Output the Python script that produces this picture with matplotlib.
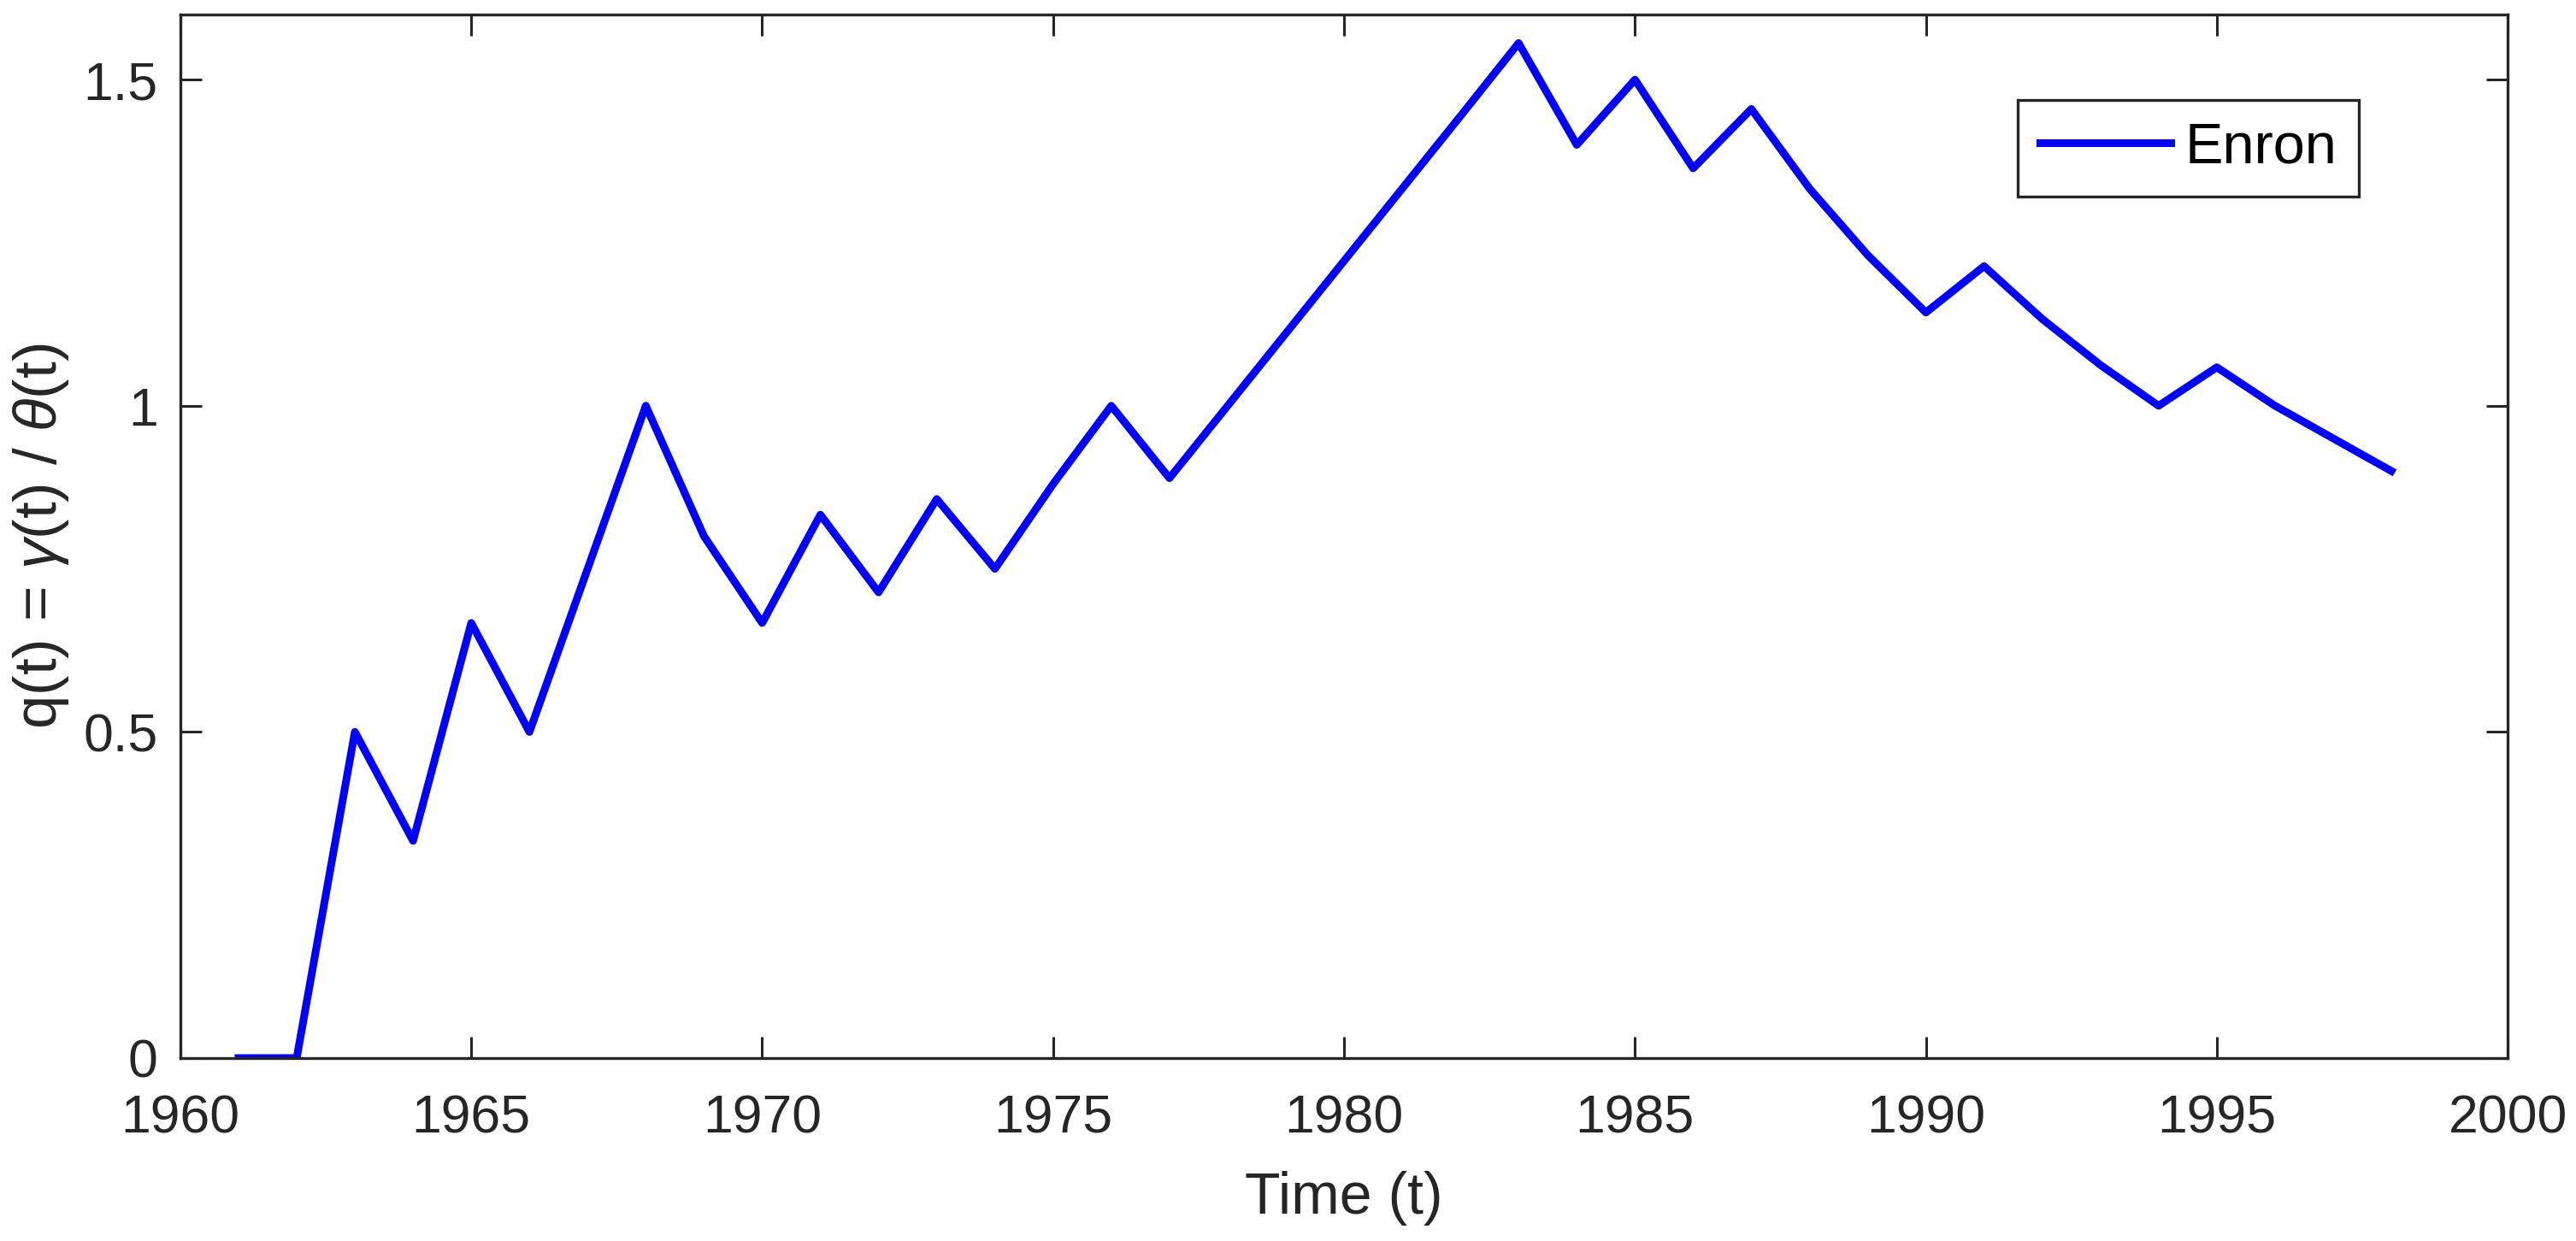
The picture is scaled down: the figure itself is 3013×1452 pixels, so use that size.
import numpy as np
import matplotlib
matplotlib.use("Agg")
import matplotlib.pyplot as plt

# -----------------------------------------------------------------
# data (yearly values)
# -----------------------------------------------------------------
years = list(range(1961, 1999))
q_enron = [0.0, 0.0, 0.5, 0.333, 0.667, 0.5, 0.75, 1.0, 0.8, 0.667,
           0.833, 0.714, 0.857, 0.75, 0.88, 1.0, 0.889, 1.0, 1.111, 1.222,
           1.333, 1.444, 1.556, 1.4, 1.5, 1.364, 1.455, 1.333, 1.231, 1.143,
           1.214, 1.133, 1.0625, 1.0, 1.059, 1.0, 0.95, 0.9]
series_name = "Enron"
x_ticks = [1960, 1965, 1970, 1975, 1980, 1985, 1990, 1995, 2000]
y_ticks = [0, 0.5, 1, 1.5]
y_ticklabels = ["0", "0.5", "1", "1.5"]

plt.rcParams["font.family"] = ["Liberation Sans", "DejaVu Sans"]
plt.rcParams["mathtext.fontset"] = "custom"
plt.rcParams["mathtext.it"] = "Liberation Sans:italic"
plt.rcParams["mathtext.rm"] = "Liberation Sans"

TXT = "#262626"

fig = plt.figure(figsize=(30.13, 14.52), dpi=100)
ax = fig.add_axes([0.0700, 0.1474, 0.9035, 0.8410])

ax.plot(years, q_enron, color=(0, 0, 1), linewidth=6.5, label=series_name)

ax.set_xlim(1960, 2000)
ax.set_ylim(0, 1.6)
ax.set_xticks(x_ticks)
ax.set_yticks(y_ticks)
ax.set_yticklabels(y_ticklabels)

ax.tick_params(direction="in", length=18, width=2.2, colors=TXT,
               labelsize=45, top=True, right=True)
ax.tick_params(axis="x", pad=30)
ax.tick_params(axis="y", pad=19)
for sp in ax.spines.values():
    sp.set_color(TXT)
    sp.set_linewidth(2.4)

ax.set_xlabel("Time (t)", fontsize=49, color=TXT)
ax.xaxis.set_label_coords(0.5, -0.108)
ax.set_ylabel(r"q(t) = $\gamma$(t) / $\theta$(t)", fontsize=51, color=TXT)
ax.yaxis.set_label_coords(-0.047, 0.5)

leg = ax.legend(loc="upper right", bbox_to_anchor=(0.936, 0.918),
                borderaxespad=0, fontsize=48, fancybox=False, framealpha=1,
                handlelength=2.3, borderpad=0.38, handletextpad=0.25)
leg.get_frame().set_edgecolor(TXT)
leg.get_frame().set_linewidth(2.4)

fig.savefig("out.png", dpi=100)
